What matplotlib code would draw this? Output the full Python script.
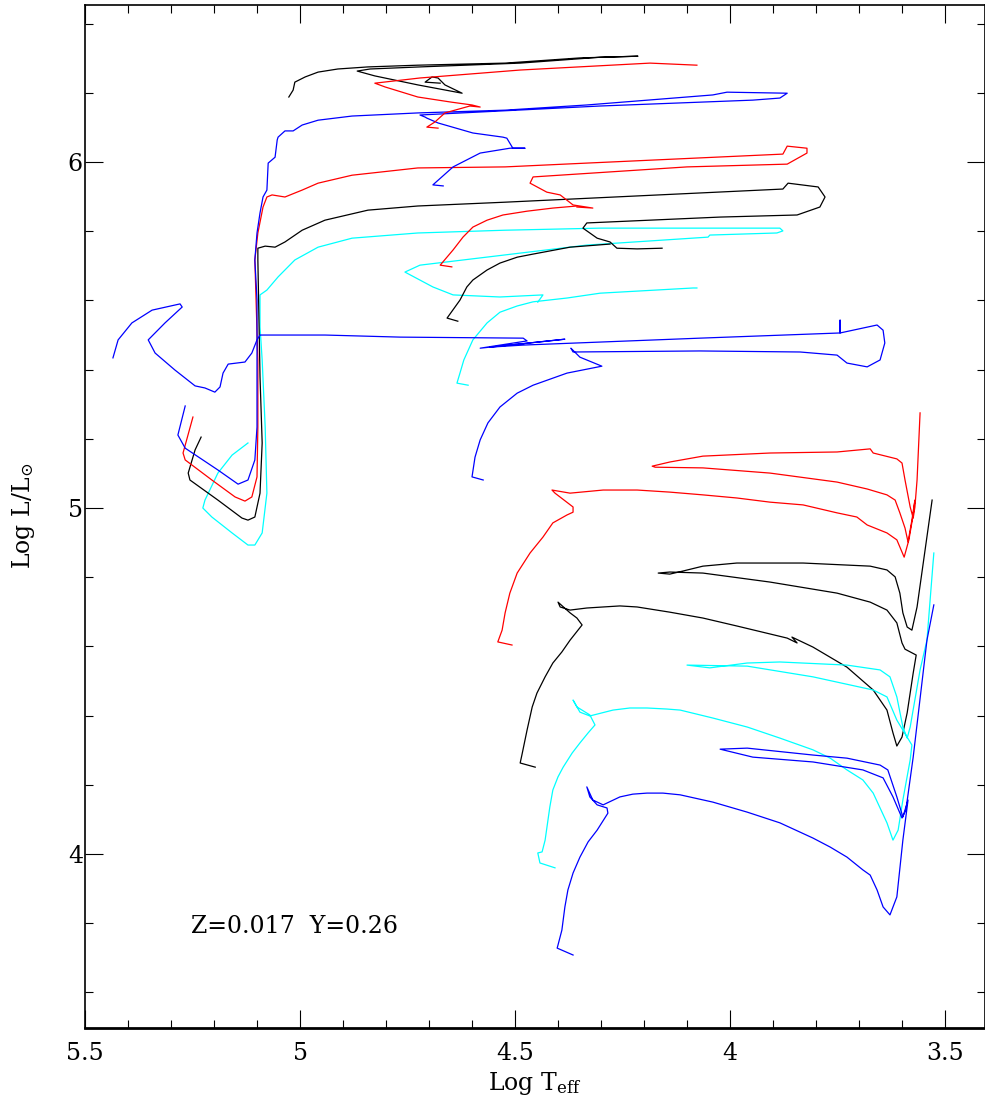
import matplotlib.pyplot as plt
from matplotlib.ticker import MultipleLocator

# evolutionary tracks: log Teff, log L/Lsun

# --- massive group, leftmost ZAMS ---
blue_hi_t = [5.267, 5.284, 5.267, 5.191, 5.144, 5.121, 5.105, 5.100, 5.100, 5.100, 5.105, 5.100, 5.093, 5.086,
             5.077, 5.074, 5.058, 5.053, 5.051, 5.035, 5.016, 4.995, 4.958, 4.879, 4.726, 4.523, 4.333, 4.040,
             4.007, 3.867, 3.884, 3.947, 4.302, 4.721, 4.709, 4.705, 4.679, 4.598, 4.528, 4.519, 4.505, 4.477,
             4.512, 4.581, 4.644, 4.691, 4.667]
blue_hi_l = [5.295, 5.211, 5.173, 5.110, 5.069, 5.081, 5.139, 5.234, 5.428, 5.601, 5.717, 5.795, 5.853, 5.899,
             5.919, 5.997, 6.014, 6.064, 6.072, 6.090, 6.090, 6.107, 6.121, 6.133, 6.142, 6.150, 6.165, 6.194,
             6.202, 6.199, 6.185, 6.179, 6.162, 6.136, 6.130, 6.127, 6.113, 6.084, 6.072, 6.069, 6.040, 6.040,
             6.040, 6.026, 5.986, 5.934, 5.931]

red_hi_t = [5.249, 5.251, 5.272, 5.267, 5.205, 5.151, 5.128, 5.112, 5.100, 5.098, 5.098, 5.105, 5.098, 5.086,
            5.077, 5.065, 5.035, 4.995, 4.958, 4.879, 4.726, 4.523, 4.333, 3.877, 3.867, 3.821, 3.821, 3.867,
            4.100, 4.458, 4.465, 4.426, 4.395, 4.365, 4.319, 4.356]
red_hi_l = [5.263, 5.254, 5.159, 5.139, 5.081, 5.032, 5.020, 5.032, 5.090, 5.234, 5.428, 5.717, 5.795, 5.870,
            5.899, 5.905, 5.899, 5.919, 5.939, 5.962, 5.983, 5.986, 5.997, 6.023, 6.046, 6.040, 6.026, 5.994,
            5.986, 5.957, 5.939, 5.913, 5.905, 5.876, 5.867, 5.870]

black_hi_t = [5.230, 5.244, 5.260, 5.256, 5.191, 5.135, 5.121, 5.105, 5.093, 5.088, 5.093, 5.098, 5.098, 5.081,
              5.058, 5.035, 4.995, 4.942, 4.842, 4.726, 4.523, 3.877, 3.865, 3.795, 3.779, 3.791, 3.844, 4.023,
              4.333, 4.342, 4.309, 4.279, 4.263, 4.216, 4.158]
black_hi_l = [5.205, 5.168, 5.101, 5.081, 5.023, 4.971, 4.965, 4.974, 5.043, 5.188, 5.379, 5.717, 5.751, 5.757,
              5.754, 5.769, 5.803, 5.832, 5.861, 5.873, 5.884, 5.922, 5.939, 5.928, 5.899, 5.870, 5.847, 5.841,
              5.824, 5.809, 5.780, 5.769, 5.751, 5.749, 5.751]

cyan_hi_t = [5.121, 5.158, 5.191, 5.221, 5.226, 5.205, 5.158, 5.121, 5.105, 5.088, 5.077, 5.081, 5.088, 5.093,
             5.093, 5.077, 5.051, 5.012, 4.958, 4.879, 4.726, 4.523, 4.302, 3.884, 3.877, 3.891, 4.047, 4.051,
             4.333, 4.721, 4.756, 4.691, 4.644, 4.535, 4.435, 4.447]
cyan_hi_l = [5.188, 5.153, 5.101, 5.023, 5.000, 4.974, 4.928, 4.893, 4.893, 4.928, 5.043, 5.234, 5.428, 5.523,
             5.616, 5.630, 5.668, 5.717, 5.754, 5.780, 5.795, 5.803, 5.809, 5.809, 5.801, 5.795, 5.789, 5.783,
             5.760, 5.702, 5.682, 5.639, 5.616, 5.610, 5.616, 5.595]

black_top_t = [5.026, 5.016, 5.012, 4.988, 4.958, 4.912, 4.842, 4.726, 4.523, 4.349, 4.214, 4.302, 4.488, 4.721,
               4.837, 4.867, 4.826, 4.726, 4.623, 4.663, 4.679, 4.693, 4.709, 4.674]
black_top_l = [6.188, 6.208, 6.231, 6.246, 6.260, 6.269, 6.275, 6.280, 6.286, 6.301, 6.306, 6.303, 6.286, 6.275,
               6.269, 6.263, 6.249, 6.223, 6.199, 6.223, 6.243, 6.246, 6.231, 6.228]

red_top_t = [4.077, 4.186, 4.488, 4.721, 4.826, 4.802, 4.726, 4.647, 4.600, 4.581, 4.605, 4.663, 4.686, 4.705, 4.679]
red_top_l = [6.280, 6.286, 6.266, 6.243, 6.228, 6.217, 6.188, 6.173, 6.165, 6.159, 6.162, 6.142, 6.116, 6.101, 6.098]

# --- intermediate group ---
red_mid_t = [4.647, 4.674, 4.644, 4.621, 4.598, 4.565, 4.528, 4.472, 4.412, 4.356]
red_mid_l = [5.697, 5.702, 5.746, 5.783, 5.812, 5.832, 5.847, 5.858, 5.867, 5.873]

black_mid_t = [4.633, 4.658, 4.628, 4.612, 4.598, 4.565, 4.535, 4.495, 4.458, 4.372, 4.279]
black_mid_l = [5.540, 5.549, 5.601, 5.639, 5.659, 5.688, 5.708, 5.725, 5.734, 5.754, 5.763]

cyan_mid_t = [4.609, 4.635, 4.628, 4.619, 4.598, 4.565, 4.535, 4.495, 4.458, 4.379, 4.302, 4.086, 4.077]
cyan_mid_l = [5.355, 5.361, 5.390, 5.428, 5.486, 5.535, 5.566, 5.584, 5.596, 5.607, 5.621, 5.636, 5.636]

blue_mid_t = [5.435, 5.423, 5.391, 5.344, 5.279, 5.274, 5.314, 5.353, 5.337, 5.291, 5.244, 5.221, 5.198, 5.186,
              5.179, 5.167, 5.128, 5.112, 5.100, 5.093, 4.942, 4.767, 4.481, 4.472, 4.581, 4.384, 4.558, 4.481,
              4.070, 3.744, 3.744, 3.744, 3.658, 3.644, 3.640, 3.651, 3.681, 3.728, 3.751, 3.837, 4.070, 4.365,
              4.370, 4.349, 4.298, 4.379, 4.458, 4.495, 4.535, 4.563, 4.581, 4.593, 4.600, 4.574]
blue_mid_l = [5.434, 5.486, 5.535, 5.572, 5.590, 5.581, 5.535, 5.486, 5.448, 5.399, 5.353, 5.347, 5.335, 5.350,
              5.390, 5.416, 5.422, 5.448, 5.486, 5.500, 5.500, 5.494, 5.491, 5.483, 5.462, 5.488, 5.465, 5.471,
              5.491, 5.506, 5.543, 5.506, 5.529, 5.514, 5.477, 5.428, 5.408, 5.419, 5.442, 5.451, 5.454, 5.451,
              5.462, 5.436, 5.410, 5.390, 5.355, 5.332, 5.292, 5.246, 5.197, 5.147, 5.090, 5.081]

# --- low mass group ---
red_lo_t = [4.507, 4.540, 4.530, 4.523, 4.512, 4.495, 4.465, 4.435, 4.412, 4.379, 4.365, 4.365, 4.407, 4.414,
            4.372, 4.295, 4.216, 4.140, 4.063, 3.984, 3.907, 3.830,
            3.751, 3.705, 3.681, 3.635, 3.612, 3.595, 3.584, 3.574, 3.570, 3.577, 3.586, 3.593, 3.605, 3.616,
            3.635, 3.681, 3.751, 3.907, 4.063, 4.174, 4.181, 4.140, 4.063, 3.907, 3.751, 3.674, 3.667, 3.612,
            3.600, 3.593, 3.581, 3.574, 3.570, 3.565, 3.558]
red_lo_l = [4.604, 4.613, 4.647, 4.697, 4.754, 4.812, 4.870, 4.916, 4.957, 4.980, 4.988, 5.003, 5.043, 5.052,
            5.043, 5.052, 5.052, 5.046, 5.038, 5.029, 5.017, 5.009,
            4.986, 4.974, 4.951, 4.928, 4.908, 4.858, 4.908, 4.980, 5.023, 4.965, 4.902, 4.942, 4.986, 5.023,
            5.038, 5.055, 5.075, 5.101, 5.116, 5.118, 5.121, 5.133, 5.150, 5.159, 5.162, 5.171, 5.159, 5.142,
            5.130, 5.081, 5.003, 4.971, 5.003, 5.081, 5.275]

black_lo_t = [4.453, 4.488, 4.484, 4.472, 4.460, 4.449, 4.430, 4.412, 4.391, 4.372, 4.344, 4.356, 4.372, 4.400,
              4.395, 4.372, 4.333, 4.295, 4.256, 4.216, 4.140, 4.063, 3.984, 3.907, 3.867, 3.844, 3.856, 3.807,
              3.728, 3.667, 3.635, 3.621, 3.612, 3.600, 3.588, 3.574,
              3.567, 3.593, 3.600, 3.612, 3.635, 3.674, 3.751, 3.907, 4.063, 4.140, 4.167, 4.140, 4.109, 4.063,
              3.984, 3.830, 3.674, 3.635, 3.616, 3.605, 3.598, 3.588, 3.577, 3.565, 3.530]
black_lo_l = [4.251, 4.263, 4.286, 4.358, 4.425, 4.465, 4.512, 4.552, 4.584, 4.618, 4.662, 4.682, 4.697, 4.728,
              4.714, 4.705, 4.711, 4.714, 4.717, 4.714, 4.699, 4.682, 4.659, 4.636, 4.624, 4.610, 4.627, 4.598,
              4.540, 4.474, 4.416, 4.350, 4.312, 4.338, 4.408, 4.523,
              4.575, 4.592, 4.610, 4.668, 4.705, 4.728, 4.754, 4.786, 4.812, 4.815, 4.812, 4.809, 4.818, 4.832,
              4.841, 4.841, 4.832, 4.821, 4.801, 4.754, 4.697, 4.656, 4.647, 4.714, 5.023]

cyan_lo_t = [4.407, 4.442, 4.447, 4.437, 4.430, 4.419, 4.412, 4.400, 4.388, 4.367, 4.349, 4.330, 4.314, 4.326,
             4.356, 4.365, 4.349, 4.326, 4.272, 4.233, 4.193, 4.147, 4.116, 4.040, 3.960, 3.884, 3.807, 3.767,
             3.728, 3.691, 3.667, 3.635, 3.621, 3.609, 3.598, 3.581, 3.577, 3.598,
             3.612, 3.635, 3.667, 3.807, 3.960, 4.100, 4.047, 3.960, 3.884, 3.728, 3.651, 3.628, 3.612, 3.598,
             3.588, 3.581, 3.558, 3.542, 3.526]
cyan_lo_l = [3.960, 3.974, 4.003, 4.006, 4.040, 4.136, 4.185, 4.223, 4.251, 4.292, 4.321, 4.350, 4.373, 4.402,
             4.425, 4.445, 4.410, 4.399, 4.416, 4.422, 4.422, 4.419, 4.416, 4.393, 4.367, 4.335, 4.301, 4.277,
             4.243, 4.214, 4.176, 4.090, 4.040, 4.069, 4.156, 4.272, 4.315, 4.358,
             4.387, 4.454, 4.474, 4.512, 4.543, 4.546, 4.538, 4.552, 4.555, 4.546, 4.532, 4.512, 4.454, 4.367,
             4.335, 4.367, 4.532, 4.618, 4.870]

blue_lo_t = [4.365, 4.402, 4.400, 4.391, 4.384, 4.377, 4.365, 4.349, 4.330, 4.309, 4.284, 4.286, 4.309, 4.326,
             4.333, 4.319, 4.295, 4.256, 4.226, 4.193, 4.156, 4.116, 4.040, 3.960, 3.884, 3.807, 3.767, 3.728,
             3.691, 3.674, 3.658, 3.644, 3.628, 3.612, 3.598, 3.586, 3.598,
             3.612, 3.633, 3.651, 3.728, 3.807, 3.960, 4.023, 3.947, 3.807, 3.691, 3.644, 3.621, 3.600, 3.591,
             3.574, 3.542, 3.526]
blue_lo_l = [3.708, 3.728, 3.737, 3.780, 3.847, 3.896, 3.945, 3.991, 4.035, 4.069, 4.118, 4.133, 4.142, 4.165,
             4.194, 4.156, 4.142, 4.165, 4.173, 4.176, 4.176, 4.171, 4.150, 4.121, 4.090, 4.046, 4.020, 3.991,
             3.954, 3.939, 3.896, 3.847, 3.824, 3.876, 4.040, 4.156, 4.107,
             4.165, 4.243, 4.257, 4.277, 4.286, 4.306, 4.303, 4.280, 4.266, 4.243, 4.220, 4.165, 4.104, 4.127,
             4.280, 4.618, 4.720]

tracks = [
    (cyan_hi_t, cyan_hi_l, "cyan"),
    (black_hi_t, black_hi_l, "black"),
    (red_hi_t, red_hi_l, "red"),
    (blue_hi_t, blue_hi_l, "blue"),
    (black_top_t, black_top_l, "black"),
    (red_top_t, red_top_l, "red"),
    (red_mid_t, red_mid_l, "red"),
    (black_mid_t, black_mid_l, "black"),
    (cyan_mid_t, cyan_mid_l, "cyan"),
    (blue_mid_t, blue_mid_l, "blue"),
    (red_lo_t, red_lo_l, "red"),
    (black_lo_t, black_lo_l, "black"),
    (cyan_lo_t, cyan_lo_l, "cyan"),
    (blue_lo_t, blue_lo_l, "blue"),
]

plt.rcParams["font.family"] = ["DejaVu Serif"]
plt.rcParams["mathtext.fontset"] = "dejavuserif"

fig = plt.figure(figsize=(9.85, 11.08), dpi=100)
ax = fig.add_axes([0.0863, 0.0725, 0.9137, 0.9230])

for t, l, c in tracks:
    ax.plot(t, l, color=c, lw=0.9)

ax.set_xlim(5.5, 3.407)
ax.set_ylim(3.498, 6.454)

ax.xaxis.set_major_locator(MultipleLocator(0.5))
ax.xaxis.set_minor_locator(MultipleLocator(0.1))
ax.yaxis.set_major_locator(MultipleLocator(1))
ax.yaxis.set_minor_locator(MultipleLocator(0.2))
ax.xaxis.set_major_formatter(plt.FuncFormatter(lambda v, p: f"{v:g}"))
ax.yaxis.set_major_formatter(plt.FuncFormatter(lambda v, p: f"{v:g}"))

ax.tick_params(which="both", direction="in", top=True, right=True, width=0.8, labelsize=17)
ax.tick_params(which="major", length=13)
ax.tick_params(which="minor", length=6)
ax.tick_params(axis="x", pad=10)
ax.tick_params(axis="y", pad=1.5)
for s in ax.spines.values():
    s.set_linewidth(1.2)
ax.spines["bottom"].set_linewidth(2)

ax.set_xlabel(r"Log T$_{\rm eff}$", fontsize=17, labelpad=4)
ax.set_ylabel(r"Log L/L$_{\odot}$", fontsize=17, labelpad=22)

ax.text(5.253, 3.772, "Z=0.017  Y=0.26", fontsize=17, va="baseline", ha="left")

fig.savefig("out.png", dpi=100)
